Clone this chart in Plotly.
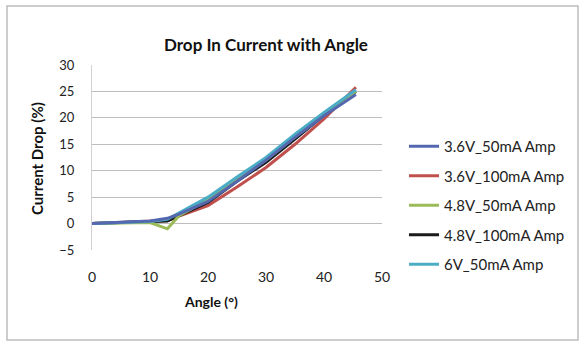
import plotly.graph_objects as go

angles = [0, 5, 10, 13, 15, 20, 25, 30, 35, 40, 45.5]
series_names = ["3.6V_50mA Amp", "3.6V_100mA Amp", "4.8V_50mA Amp", "4.8V_100mA Amp", "6V_50mA Amp"]
v36_50 = [0, 0.2, 0.5, 1.0, 1.8, 4.2, 8.0, 12.0, 16.3, 20.4, 24.4]
v36_100 = [0, 0.2, 0.4, 0.6, 1.4, 3.4, 6.9, 10.6, 15.0, 19.8, 25.8]
v48_50 = [0, 0.1, 0.2, -1.0, 1.5, 4.5, 8.5, 12.0, 16.4, 20.8, 25.0]
v48_100 = [0, 0.2, 0.4, 0.5, 1.5, 4.0, 8.0, 11.6, 16.0, 20.5, 25.0]
v6_50 = [0, 0.2, 0.4, 0.8, 2.0, 5.0, 8.8, 12.5, 16.9, 21.0, 25.3]
series_values = [v36_50, v36_100, v48_50, v48_100, v6_50]
colors = ["#5468B0", "#C0504D", "#9BBB59", "#1a1a1a", "#4BACC6"]

y_ticks = [-5, 0, 5, 10, 15, 20, 25, 30]
x_ticks = [0, 10, 20, 30, 40, 50]

FONT = "Lato, Open Sans, sans-serif"
fig = go.Figure()
draw_order = [1, 3, 2, 4, 0]
for i in draw_order:
    fig.add_trace(go.Scatter(
        x=angles, y=series_values[i], mode="lines", name=series_names[i],
        line=dict(color=colors[i], width=3), legendrank=i + 1, legendgroup=str(i),
    ))

L, R, T, B = 92, 203, 65, 99
W, H = 585, 349
pw, ph = W - L - R, H - T - B

def px(x):
    return (x - L) / pw

def py(y):
    return (H - B - y) / ph

fig.update_layout(
    width=W, height=H,
    margin=dict(l=L, r=R, t=T, b=B),
    paper_bgcolor="white", plot_bgcolor="white",
    font=dict(family=FONT, size=13, color="#222"),
    showlegend=True,
    legend=dict(x=px(404), y=py(130), xanchor="left", yanchor="top",
                font=dict(size=15, color="#222"), tracegroupgap=7,
                itemwidth=30, bgcolor="rgba(0,0,0,0)", traceorder="grouped"),
    xaxis=dict(range=[0, 50], tickvals=x_ticks, showgrid=False, zeroline=False,
               showline=False, ticks="", ticklabelstandoff=17,
               tickfont=dict(size=14, color="#222")),
    yaxis=dict(range=[-5, 30], tickvals=y_ticks, showgrid=True, gridcolor="#BDBDBD",
               gridwidth=1, zeroline=False, showline=True, linecolor="#D0D0D0",
               ticks="", ticklabelstandoff=14, tickfont=dict(size=13, color="#222")),
    shapes=[dict(type="rect", xref="paper", yref="paper",
                 x0=px(7), x1=px(578), y0=py(340), y1=py(6),
                 line=dict(color="#BDBDBD", width=1.5), fillcolor="rgba(0,0,0,0)", layer="below")],
    annotations=[
        dict(text="<b>Drop In Current with Angle</b>", xref="paper", yref="paper",
             x=px(266), y=py(32), showarrow=False, font=dict(size=17, color="#111")),
        dict(text="<b>Angle (°)</b>", xref="paper", yref="paper",
             x=px(211), y=py(312), showarrow=False, font=dict(size=14, color="#111")),
        dict(text="<b>Current Drop (%)</b>", xref="paper", yref="paper",
             x=px(26), y=py(159), showarrow=False, textangle=-90,
             font=dict(size=15, color="#111")),
    ],
)

fig.write_html("out.html")
